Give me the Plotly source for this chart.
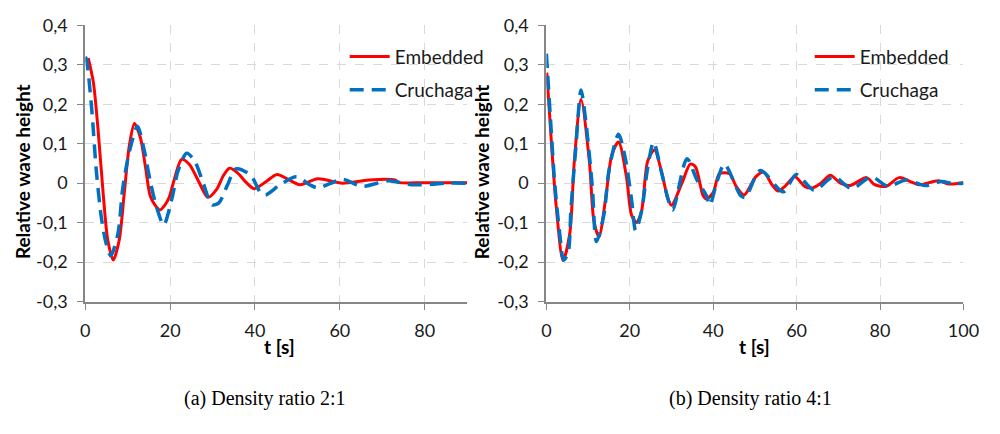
import plotly.graph_objects as go

# ---------------- data ----------------
# (a) Density ratio 2:1
t_emb_a = [0.7, 1.9, 3.0, 4.2, 5.3, 6.6, 8.0, 9.2, 10.4, 11.6, 13.0, 14.2, 15.3, 16.4, 17.6, 18.8, 19.8,
           21.0, 22.7, 24.5, 26.7, 28.9, 31.0, 32.5, 34.0, 36.0, 37.8, 39.8, 42.5, 45.2, 47.9, 50.6,
           54.8, 60.6, 66.8, 73.0, 73.8, 80.0, 90.0]
v_emb_a = [0.317, 0.256, 0.137, -0.024, -0.144, -0.195, -0.144, -0.024, 0.096, 0.151, 0.115, 0.04, -0.032,
           -0.055, -0.068, -0.055, -0.035, 0.01, 0.06, 0.048, 0.005, -0.036, -0.015, 0.018, 0.038, 0.025,
           0.003, -0.014, 0.003, 0.022, 0.009, -0.004, 0.011, 0.0, 0.008, 0.008, 0.002, 0.001, 0.001]

t_cru_a = [0.0, 0.3, 1.5, 2.6, 3.8, 4.9, 6.0, 7.7, 8.8, 10.4, 12.3, 13.8, 15.4, 16.9, 18.5, 20.4, 21.9,
           23.9, 25.8, 27.8, 29.9, 31.5, 33.5, 35.5, 39.0, 41.3, 42.5, 45.9, 49.8, 52.9, 54.8, 57.5,
           60.6, 65.3, 71.5, 76.9, 81.5, 85.0, 90.0]
v_cru_a = [0.32, 0.312, 0.19, 0.032, -0.088, -0.152, -0.184, -0.128, -0.016, 0.08, 0.144, 0.088, 0.0,
           -0.064, -0.106, -0.04, 0.032, 0.076, 0.056, 0.0, -0.055, -0.05, -0.005, 0.036, 0.02, -0.024,
           -0.03, -0.004, 0.016, -0.004, -0.012, -0.002, 0.01, -0.008, 0.006, -0.004, -0.003, 0.0, 0.0]

# (b) Density ratio 4:1
t_emb_b = [0.1, 1.25, 2.4, 4.0, 5.6, 6.7, 8.3, 10.3, 11.4, 12.6, 14.2, 15.7, 17.3, 19.2, 20.4, 21.6, 22.8,
           24.3, 25.9, 27.9, 29.0, 30.0, 32.5, 34.5, 35.7, 37.6, 38.4, 40.0, 41.5, 43.9, 45.5, 47.4,
           50.2, 52.1, 54.1, 55.6, 57.2, 59.6, 61.9, 63.8, 65.8, 68.1, 70.5, 72.8, 76.8, 78.7, 81.5,
           84.6, 87.7, 89.3, 94.0, 96.4, 100.0]
v_emb_b = [0.28, 0.096, -0.064, -0.196, -0.128, 0.056, 0.212, 0.056, -0.096, -0.136, -0.04, 0.072, 0.104,
           0.016, -0.08, -0.1, -0.072, 0.056, 0.084, 0.016, -0.035, -0.056, 0.0, 0.048, 0.042, -0.032,
           -0.04, -0.024, 0.024, 0.024, -0.008, -0.03, 0.016, 0.028, -0.004, -0.02, -0.008, 0.016,
           -0.008, -0.012, 0.0, 0.02, 0.0, -0.006, 0.014, -0.004, -0.008, 0.014, 0.002, -0.004, 0.006,
           -0.002, 0.001]

t_cru_b = [0.0, 0.9, 2.0, 3.2, 4.15, 5.2, 5.9, 7.1, 8.3, 9.5, 11.0, 12.0, 13.8, 15.0, 17.3, 18.9, 20.4,
           21.4, 22.8, 24.3, 25.7, 27.5, 29.4, 30.3, 33.7, 36.1, 38.4, 39.2, 40.8, 42.7, 46.6, 47.7,
           51.3, 56.8, 59.9, 64.2, 68.9, 73.2, 77.9, 81.9, 86.2, 90.8, 94.7, 97.5, 100.0]
v_cru_b = [0.328, 0.176, 0.0, -0.128, -0.195, -0.176, -0.064, 0.096, 0.236, 0.152, -0.008, -0.148, -0.08,
           0.032, 0.124, 0.064, -0.04, -0.12, -0.072, 0.04, 0.104, 0.032, -0.048, -0.068, 0.062, 0.008,
           -0.032, -0.056, 0.0, 0.048, -0.032, -0.036, 0.032, -0.022, 0.022, -0.018, 0.016, -0.014,
           0.016, -0.008, 0.008, -0.006, 0.004, -0.001, 0.0]

y_tick_vals = [-0.3, -0.2, -0.1, 0.0, 0.1, 0.2, 0.3, 0.4]
y_tick_text = ["-0,3", "-0,2", "-0,1", "0", "0,1", "0,2", "0,3", "0,4"]
series_names = ["Embedded", "Cruchaga"]
captions = ["(a) Density ratio 2:1", "(b) Density ratio 4:1"]
y_title = "Relative wave height"
x_title = "t [s]"

# ---------------- styling ----------------
W, H = 1000, 434
RED = "#FF0000"
BLUE = "#0070C0"
AXIS_GREY = "#868686"
GRID = "#D9D9D9"
TICK_FONT = dict(family="Lato", size=18, color="#1a1a1a")
DASH = "14px,8px"


def px_x(p):
    return p / W


def px_y(p):
    return 1 - p / H


fig = go.Figure()

fig.add_trace(go.Scatter(x=t_emb_a, y=v_emb_a, mode="lines", name=series_names[0],
                         line=dict(color=RED, width=3, shape="spline", smoothing=0.8),
                         xaxis="x", yaxis="y", legend="legend"))
fig.add_trace(go.Scatter(x=t_cru_a, y=v_cru_a, mode="lines", name=series_names[1],
                         line=dict(color=BLUE, width=3.5, dash=DASH, shape="spline", smoothing=0.8),
                         xaxis="x", yaxis="y", legend="legend2"))
fig.add_trace(go.Scatter(x=t_emb_b, y=v_emb_b, mode="lines", name=series_names[0],
                         line=dict(color=RED, width=3, shape="spline", smoothing=0.8),
                         xaxis="x2", yaxis="y2", legend="legend3"))
fig.add_trace(go.Scatter(x=t_cru_b, y=v_cru_b, mode="lines", name=series_names[1],
                         line=dict(color=BLUE, width=3.5, dash=DASH, shape="spline", smoothing=0.8),
                         xaxis="x2", yaxis="y2", legend="legend4"))

y_dom = [px_y(305), px_y(14)]

xaxis_common = dict(showline=True, linecolor=AXIS_GREY, linewidth=2, zeroline=False,
                    showgrid=True, gridcolor=GRID, griddash="dash", gridwidth=1,
                    ticks="outside", ticklen=6, tickcolor=AXIS_GREY, tickwidth=1,
                    tickfont=TICK_FONT, ticklabelstandoff=6, dtick=20, tick0=0)
yaxis_common = dict(showline=True, linecolor=AXIS_GREY, linewidth=2, zeroline=False,
                    showgrid=True, gridcolor=GRID, griddash="dash", gridwidth=1,
                    ticks="outside", ticklen=6, tickcolor=AXIS_GREY, tickwidth=1,
                    tickfont=TICK_FONT, tickvals=y_tick_vals, ticktext=y_tick_text,
                    range=[-0.3, 0.4], ticklabelstandoff=6)

legend_common = dict(bgcolor="rgba(0,0,0,0)", borderwidth=0, itemwidth=40,
                     font=dict(family="Lato", size=19, color="#1a1a1a"),
                     xanchor="left", yanchor="middle", itemclick=False)

fig.update_layout(
    width=W, height=H,
    margin=dict(l=0, r=0, t=0, b=0),
    paper_bgcolor="white", plot_bgcolor="white",
    xaxis=dict(domain=[px_x(82), px_x(472)], range=[0, 90], anchor="y", **xaxis_common),
    yaxis=dict(domain=y_dom, anchor="x", **yaxis_common),
    xaxis2=dict(domain=[px_x(553), px_x(979)], range=[0, 100], anchor="y2", **xaxis_common),
    yaxis2=dict(domain=y_dom, anchor="x2", **yaxis_common),
    legend=dict(x=px_x(347), y=px_y(47), **legend_common),
    legend2=dict(x=px_x(347), y=px_y(82), **legend_common),
    legend3=dict(x=px_x(822), y=px_y(47), **legend_common),
    legend4=dict(x=px_x(822), y=px_y(82), **legend_common),
    showlegend=True,
)

title_font = dict(family="Lato", size=19, color="#000000")
annotations = [
    dict(text="<b>%s</b>" % y_title, x=px_x(18), y=px_y(168), textangle=-90, font=title_font),
    dict(text="<b>%s</b>" % y_title, x=px_x(487), y=px_y(168), textangle=-90, font=title_font),
    dict(text="<b>%s</b>" % x_title, x=px_x(280), y=px_y(352), font=title_font),
    dict(text="<b>%s</b>" % x_title, x=px_x(766), y=px_y(352), font=title_font),
    dict(text=captions[0], x=px_x(266), y=px_y(407),
         font=dict(family="Liberation Serif", size=20, color="#000000")),
    dict(text=captions[1], x=px_x(761), y=px_y(407),
         font=dict(family="Liberation Serif", size=20, color="#000000")),
]
for a in annotations:
    a.update(xref="paper", yref="paper", showarrow=False, xanchor="center", yanchor="middle")
fig.update_layout(annotations=annotations)

fig.write_html("out.html")
